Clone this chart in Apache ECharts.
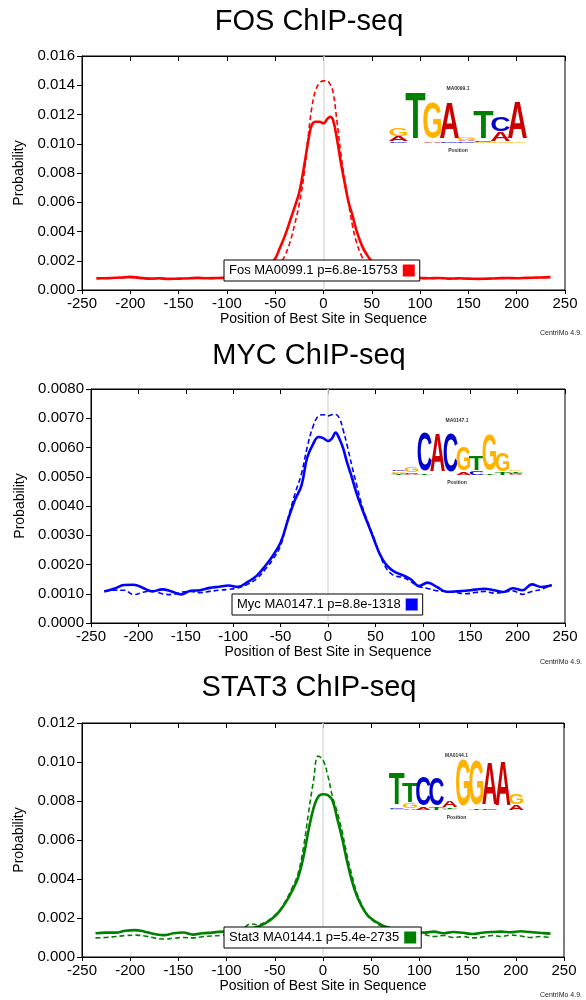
<!DOCTYPE html>
<html>
<head>
<meta charset="UTF-8">
<title>CentriMo site distributions</title>
<script src="https://cdn.jsdelivr.net/npm/echarts@6/dist/echarts.min.js"></script>
<style>
html, body { margin: 0; padding: 0; background: #fff; }
#main { width: 586px; height: 1000px; }
</style>
</head>
<body>
<div id="main"></div>
<script>
// FOS: position of best site vs probability (solid = all, dashed = central)
var fosX = [-235,-220,-210,-200,-190,-180,-170,-160,-150,-140,-130,-120,-110,-100,-90,-80,-70,-60,-55,-50,-45,-40,-35,-30,-25,-20,-15,-12,-8,-4,0,4,7,10,14,18,22,26,30,34,40,45,50,55,60,70,80,90,100,110,120,130,140,150,160,170,180,190,200,210,220,235];
var fosSolid = [0.00080,0.00082,0.00085,0.00090,0.00083,0.00078,0.00080,0.00076,0.00078,0.00080,0.00083,0.00080,0.00082,0.00084,0.00086,0.00092,0.00110,0.00150,0.00180,0.00215,0.00290,0.00370,0.00465,0.00565,0.00670,0.00850,0.01050,0.01130,0.01150,0.01150,0.01140,0.01170,0.01185,0.01160,0.01030,0.00870,0.00730,0.00600,0.00510,0.00410,0.00300,0.00240,0.00195,0.00160,0.00130,0.00100,0.00088,0.00084,0.00082,0.00080,0.00082,0.00078,0.00080,0.00078,0.00076,0.00078,0.00080,0.00082,0.00080,0.00083,0.00085,0.00088];
var fosDashed = [0.00078,0.00080,0.00083,0.00086,0.00080,0.00076,0.00078,0.00075,0.00077,0.00079,0.00081,0.00079,0.00080,0.00082,0.00083,0.00086,0.00092,0.00105,0.00118,0.00135,0.00175,0.00235,0.00320,0.00445,0.00590,0.00800,0.01100,0.01250,0.01370,0.01415,0.01430,0.01428,0.01405,0.01350,0.01150,0.00930,0.00750,0.00590,0.00440,0.00330,0.00225,0.00170,0.00135,0.00115,0.00102,0.00090,0.00085,0.00082,0.00080,0.00079,0.00080,0.00077,0.00078,0.00076,0.00075,0.00077,0.00079,0.00080,0.00080,0.00082,0.00084,0.00086];

// MYC
var mycX = [-236,-225,-215,-205,-195,-185,-175,-165,-155,-145,-135,-125,-115,-105,-95,-85,-75,-65,-58,-50,-42,-35,-28,-22,-16,-10,-5,0,4,8,12,16,20,25,30,36,42,48,54,60,66,72,80,88,96,105,115,125,135,145,155,165,175,185,195,205,215,225,236];
var mycSolid = [0.00108,0.00118,0.00130,0.00131,0.00120,0.00108,0.00115,0.00108,0.00098,0.00110,0.00112,0.00120,0.00124,0.00128,0.00124,0.00140,0.00162,0.00200,0.00231,0.00275,0.00355,0.00420,0.00470,0.00565,0.00610,0.00636,0.00632,0.00622,0.00630,0.00651,0.00630,0.00597,0.00550,0.00500,0.00445,0.00390,0.00340,0.00290,0.00240,0.00205,0.00185,0.00172,0.00162,0.00148,0.00126,0.00138,0.00123,0.00107,0.00108,0.00110,0.00114,0.00117,0.00112,0.00106,0.00119,0.00112,0.00132,0.00123,0.00129];
var mycDashed = [0.00110,0.00112,0.00112,0.00097,0.00105,0.00110,0.00100,0.00097,0.00105,0.00108,0.00104,0.00108,0.00112,0.00115,0.00120,0.00132,0.00152,0.00188,0.00218,0.00265,0.00360,0.00440,0.00510,0.00600,0.00670,0.00708,0.00712,0.00708,0.00712,0.00713,0.00700,0.00660,0.00610,0.00540,0.00475,0.00400,0.00345,0.00295,0.00240,0.00195,0.00170,0.00160,0.00155,0.00140,0.00125,0.00118,0.00110,0.00108,0.00104,0.00100,0.00104,0.00108,0.00102,0.00105,0.00110,0.00098,0.00108,0.00115,0.00130];

// STAT3
var statX = [-236,-225,-215,-205,-195,-185,-175,-165,-155,-145,-135,-125,-115,-105,-95,-85,-75,-68,-60,-52,-45,-38,-32,-26,-20,-15,-10,-5,0,5,10,15,20,25,30,35,40,46,52,58,65,75,85,95,105,115,125,135,145,155,165,175,185,195,205,215,225,236];
var statSolid = [0.00122,0.00125,0.00125,0.00135,0.00138,0.00130,0.00118,0.00112,0.00122,0.00126,0.00115,0.00122,0.00125,0.00130,0.00128,0.00135,0.00145,0.00155,0.00172,0.00200,0.00235,0.00285,0.00340,0.00405,0.00520,0.00650,0.00760,0.00822,0.00835,0.00830,0.00800,0.00705,0.00605,0.00490,0.00390,0.00315,0.00262,0.00215,0.00190,0.00172,0.00155,0.00143,0.00132,0.00128,0.00125,0.00130,0.00122,0.00128,0.00124,0.00118,0.00124,0.00128,0.00130,0.00127,0.00132,0.00128,0.00124,0.00120];
var statDashed = [0.00098,0.00100,0.00105,0.00110,0.00112,0.00108,0.00098,0.00092,0.00096,0.00100,0.00098,0.00104,0.00108,0.00112,0.00125,0.00135,0.00170,0.00165,0.00178,0.00205,0.00240,0.00295,0.00355,0.00425,0.00570,0.00740,0.00900,0.01030,0.01010,0.00930,0.00820,0.00740,0.00640,0.00520,0.00420,0.00330,0.00270,0.00215,0.00185,0.00165,0.00150,0.00138,0.00128,0.00120,0.00115,0.00105,0.00110,0.00100,0.00105,0.00098,0.00102,0.00110,0.00105,0.00112,0.00108,0.00100,0.00105,0.00098];

var legendNames = ['Fos MA0099.1 p=6.8e-15753', 'Myc MA0147.1 p=8.8e-1318', 'Stat3 MA0144.1 p=5.4e-2735'];
var yMaxes = [0.016, 0.008, 0.012];
var ySteps = [0.002, 0.001, 0.002];

// sequence logos, bits per letter, bottom to top
var fosLogo = [[['C',0.05],['A',0.2],['G',0.35]], [['T',1.95]], [['A',0.05],['G',1.5]], [['C',0.05],['A',1.5]], [['C',0.06],['A',0.06],['G',0.12]], [['G',0.04],['C',0.06],['T',1.2]], [['G',0.05],['A',0.4],['C',0.6]], [['G',0.05],['A',1.6]]];
var mycLogo = [[['T',0.05],['A',0.05],['G',0.05],['C',0.05]], [['A',0.05],['C',0.05],['G',0.2]], [['T',0.03],['C',1.65]], [['A',1.65]], [['C',1.65]], [['A',0.1],['G',1.0]], [['C',0.15],['T',0.6]], [['T',0.05],['G',1.5]], [['T',0.1],['G',0.8]], [['A',0.05],['C',0.05],['T',0.05],['G',0.05]]];
var statLogo = [[['G',0.05],['C',0.05],['T',1.35]], [['A',0.05],['G',0.2],['T',0.85]], [['A',0.1],['C',1.25]], [['T',0.1],['C',1.2]], [['G',0.05],['T',0.05],['A',0.3]], [['G',1.95]], [['T',0.05],['G',1.9]], [['C',0.05],['A',1.8]], [['A',1.9]], [['A',0.2],['G',0.45]]];
var logoNames = ['MA0099.1', 'MA0147.1', 'MA0144.1'];

var FONT = '"Liberation Sans", Arial, Helvetica, sans-serif';
var letterColor = { A: '#cc0000', C: '#0000cc', G: '#ffb300', T: '#008000' };
var letterAdv = { A: 0.722, C: 0.722, G: 0.778, T: 0.611 };

function pairs(xs, ys) {
    return xs.map(function (x, i) { return [x, ys[i]]; });
}

var panels = [
    { title: 'FOS ChIP-seq', titleY: 22, left: 82, top: 56, width: 483, color: '#ff0000', xs: fosX, solid: fosSolid, dashed: fosDashed, dec: 3, nameGap: 55, legL: 224, legT: 260, logo: fosLogo, lx: 390, lw: 17, lb: 143, foot: 333 },
    { title: 'MYC ChIP-seq', titleY: 356, left: 91, top: 389, width: 474, color: '#0000ff', xs: mycX, solid: mycSolid, dashed: mycDashed, dec: 4, nameGap: 64, legL: 232, legT: 594, logo: mycLogo, lx: 392, lw: 13, lb: 475, foot: 662 },
    { title: 'STAT3 ChIP-seq', titleY: 688, left: 82, top: 723, width: 482, color: '#008000', xs: statX, solid: statSolid, dashed: statDashed, dec: 3, nameGap: 55, legL: 224, legT: 927, logo: statLogo, lx: 390, lw: 13.3, lb: 810, foot: 995 }
];

var grids = [], xAxes = [], yAxes = [], series = [], legends = [], graphics = [];
var PX_PER_BIT = 23;

panels.forEach(function (p, i) {
    grids.push({ left: p.left, top: p.top, width: p.width, height: 234, show: true, borderColor: '#000', borderWidth: 1 });
    xAxes.push({
        type: 'value', gridIndex: i, min: -250, max: 250, interval: 50, position: 'bottom',
        name: 'Position of Best Site in Sequence', nameLocation: 'middle', nameGap: 21,
        nameTextStyle: { fontFamily: FONT, fontSize: 14, color: '#000' },
        axisLine: { onZero: false, lineStyle: { color: '#000', width: 1 } },
        axisTick: { length: 4, lineStyle: { color: '#000' } },
        axisLabel: { fontFamily: FONT, fontSize: 15, color: '#000', margin: 6, showMinLabel: true, showMaxLabel: true },
        splitLine: { show: false }
    });
    xAxes.push({
        type: 'value', gridIndex: i, min: -250, max: 250, interval: 50, position: 'top',
        axisLine: { onZero: false, lineStyle: { color: '#000', width: 1 } },
        axisTick: { inside: true, length: 5, lineStyle: { color: '#000' } },
        axisLabel: { show: false }, splitLine: { show: false }
    });
    yAxes.push({
        type: 'value', gridIndex: i, min: 0, max: yMaxes[i], interval: ySteps[i], position: 'left',
        name: 'Probability', nameLocation: 'middle', nameGap: p.nameGap, nameRotate: 90,
        nameTextStyle: { fontFamily: FONT, fontSize: 14, color: '#000' },
        axisLine: { show: true, onZero: false, lineStyle: { color: '#000', width: 1 } },
        axisTick: { show: true, length: 5, lineStyle: { color: '#000' } },
        axisLabel: {
            fontFamily: FONT, fontSize: 15, color: '#000', margin: 7,
            formatter: (function (d) { return function (v) { return v.toFixed(d); }; })(p.dec)
        },
        splitLine: { show: false }
    });
    series.push({
        name: legendNames[i] + ' (central)', type: 'line', xAxisIndex: i * 2, yAxisIndex: i,
        data: pairs(p.xs, p.dashed), smooth: 0.4, symbol: 'none', z: 2,
        lineStyle: { color: p.color, width: 1.6, type: [5, 3] }, itemStyle: { color: p.color },
        markLine: {
            silent: true, symbol: 'none', label: { show: false }, z: 1,
            lineStyle: { color: '#dddddd', width: 1.5, type: 'solid' },
            data: [{ xAxis: 0 }]
        }
    });
    series.push({
        name: legendNames[i], type: 'line', xAxisIndex: i * 2, yAxisIndex: i,
        data: pairs(p.xs, p.solid), smooth: 0.4, symbol: 'none', z: 3,
        lineStyle: { color: p.color, width: 2.6 }, itemStyle: { color: p.color }
    });
    legends.push({
        left: p.legL, top: p.legT, align: 'right', selectedMode: false, z: 10,
        data: [{ name: legendNames[i], icon: 'rect' }],
        itemWidth: 12, itemHeight: 12, padding: [4, 5, 4, 5],
        backgroundColor: '#fff', borderColor: '#000', borderWidth: 1, borderRadius: 0,
        textStyle: { fontFamily: FONT, fontSize: 13, color: '#000' }
    });

    graphics.push({ type: 'text', x: 309, y: p.titleY, silent: true,
        style: { text: p.title, font: '29px ' + FONT, fill: '#000', align: 'center', verticalAlign: 'middle' } });
    graphics.push({ type: 'text', x: 540, y: p.foot, silent: true,
        style: { text: 'CentriMo 4.9.', font: '7px ' + FONT, fill: '#222', align: 'left', verticalAlign: 'middle' } });

    // sequence logo inset
    var logoW = p.logo.length * p.lw;
    graphics.push({ type: 'text', x: p.lx + logoW / 2, y: p.lb - 54, silent: true,
        style: { text: logoNames[i], font: 'bold 5px ' + FONT, fill: '#333', align: 'center', verticalAlign: 'middle' } });
    graphics.push({ type: 'text', x: p.lx + logoW / 2, y: p.lb + 8, silent: true,
        style: { text: 'Position', font: 'bold 5px ' + FONT, fill: '#333', align: 'center', verticalAlign: 'middle' } });
    p.logo.forEach(function (col, c) {
        var base = p.lb;
        col.forEach(function (cell) {
            var L = cell[0], h = cell[1] * PX_PER_BIT;
            graphics.push({
                type: 'text', silent: true,
                x: p.lx + (c + 0.5) * p.lw, y: base - h / 2,
                scaleX: (p.lw * 1.2) / (letterAdv[L] * 20), scaleY: h / 14,
                style: { text: L, font: 'bold 20px ' + FONT, fill: letterColor[L], align: 'center', verticalAlign: 'middle' }
            });
            base -= h;
        });
    });
});

var chart = echarts.init(document.getElementById('main'), null, { renderer: 'canvas' });
chart.setOption({
    animation: false,
    backgroundColor: '#fff',
    grid: grids,
    xAxis: xAxes,
    yAxis: yAxes,
    legend: legends,
    series: series,
    graphic: graphics
});
</script>
</body>
</html>
